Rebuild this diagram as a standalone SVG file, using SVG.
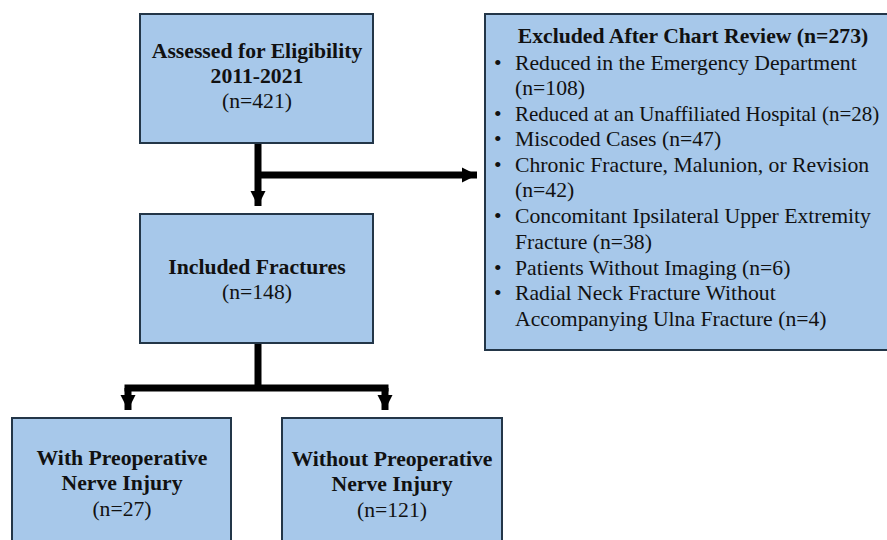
<svg xmlns="http://www.w3.org/2000/svg" width="887" height="540" viewBox="0 0 887 540">
<style>
.box{fill:#a7c8ea;stroke:#233648;stroke-width:2}
.b{font-family:"Liberation Serif",serif;font-weight:bold;font-size:21.7px;fill:#111;text-anchor:middle}
.r{font-family:"Liberation Serif",serif;font-size:21.7px;fill:#111;text-anchor:middle}
.l{font-family:"Liberation Serif",serif;font-size:21.7px;fill:#111}
.c{stroke:#000;stroke-width:7;fill:none}
</style>
<defs>
<marker id="ah" viewBox="0 0 10 10" refX="10" refY="5" markerWidth="2.2" markerHeight="2.2" orient="auto" markerUnits="strokeWidth">
<path d="M0,0L10,5L0,10z" fill="#000"/>
</marker>
</defs>
<g id="connectors">
<path class="c" d="M258,143V206" marker-end="url(#ah)"/>
<path class="c" d="M258,175H477" marker-end="url(#ah)"/>
<path class="c" d="M258,343V388"/>
<path class="c" d="M124.5,388H388.5"/>
<path class="c" d="M128,388V410" marker-end="url(#ah)"/>
<path class="c" d="M385,388V410" marker-end="url(#ah)"/>
</g>
<g id="assessed">
<rect class="box" x="140" y="14" width="233" height="129"/>
<text class="b" x="257" y="58">Assessed for Eligibility</text>
<text class="b" x="257" y="83">2011-2021</text>
<text class="r" x="257" y="108">(n=421)</text>
</g>
<g id="included">
<rect class="box" x="140" y="214" width="233" height="129"/>
<text class="b" x="257" y="274">Included Fractures</text>
<text class="r" x="257" y="299">(n=148)</text>
</g>
<g id="excluded">
<rect class="box" x="485" y="14" width="410" height="336"/>
<text class="b" x="693" y="43">Excluded After Chart Review (n=273)</text>
<g class="l">
<text x="494" y="70">•</text><text x="515" y="70">Reduced in the Emergency Department</text>
<text x="515" y="95">(n=108)</text>
<text x="494" y="121">•</text><text x="515" y="121" style="font-size:21px">Reduced at an Unaffiliated Hospital (n=28)</text>
<text x="494" y="146">•</text><text x="515" y="146">Miscoded Cases (n=47)</text>
<text x="494" y="172">•</text><text x="515" y="172">Chronic Fracture, Malunion, or Revision</text>
<text x="515" y="197">(n=42)</text>
<text x="494" y="223">•</text><text x="515" y="223">Concomitant Ipsilateral Upper Extremity</text>
<text x="515" y="249">Fracture (n=38)</text>
<text x="494" y="275">•</text><text x="515" y="275">Patients Without Imaging (n=6)</text>
<text x="494" y="300">•</text><text x="515" y="300">Radial Neck Fracture Without</text>
<text x="515" y="326">Accompanying Ulna Fracture (n=4)</text>
</g>
</g>
<g id="with">
<rect class="box" x="12" y="418" width="219" height="140"/>
<text class="b" x="122" y="465">With Preoperative</text>
<text class="b" x="122" y="490">Nerve Injury</text>
<text class="r" x="122" y="516">(n=27)</text>
</g>
<g id="without">
<rect class="box" x="282" y="418" width="220" height="140"/>
<text class="b" x="392" y="466">Without Preoperative</text>
<text class="b" x="392" y="491">Nerve Injury</text>
<text class="r" x="392" y="517">(n=121)</text>
</g>
</svg>
